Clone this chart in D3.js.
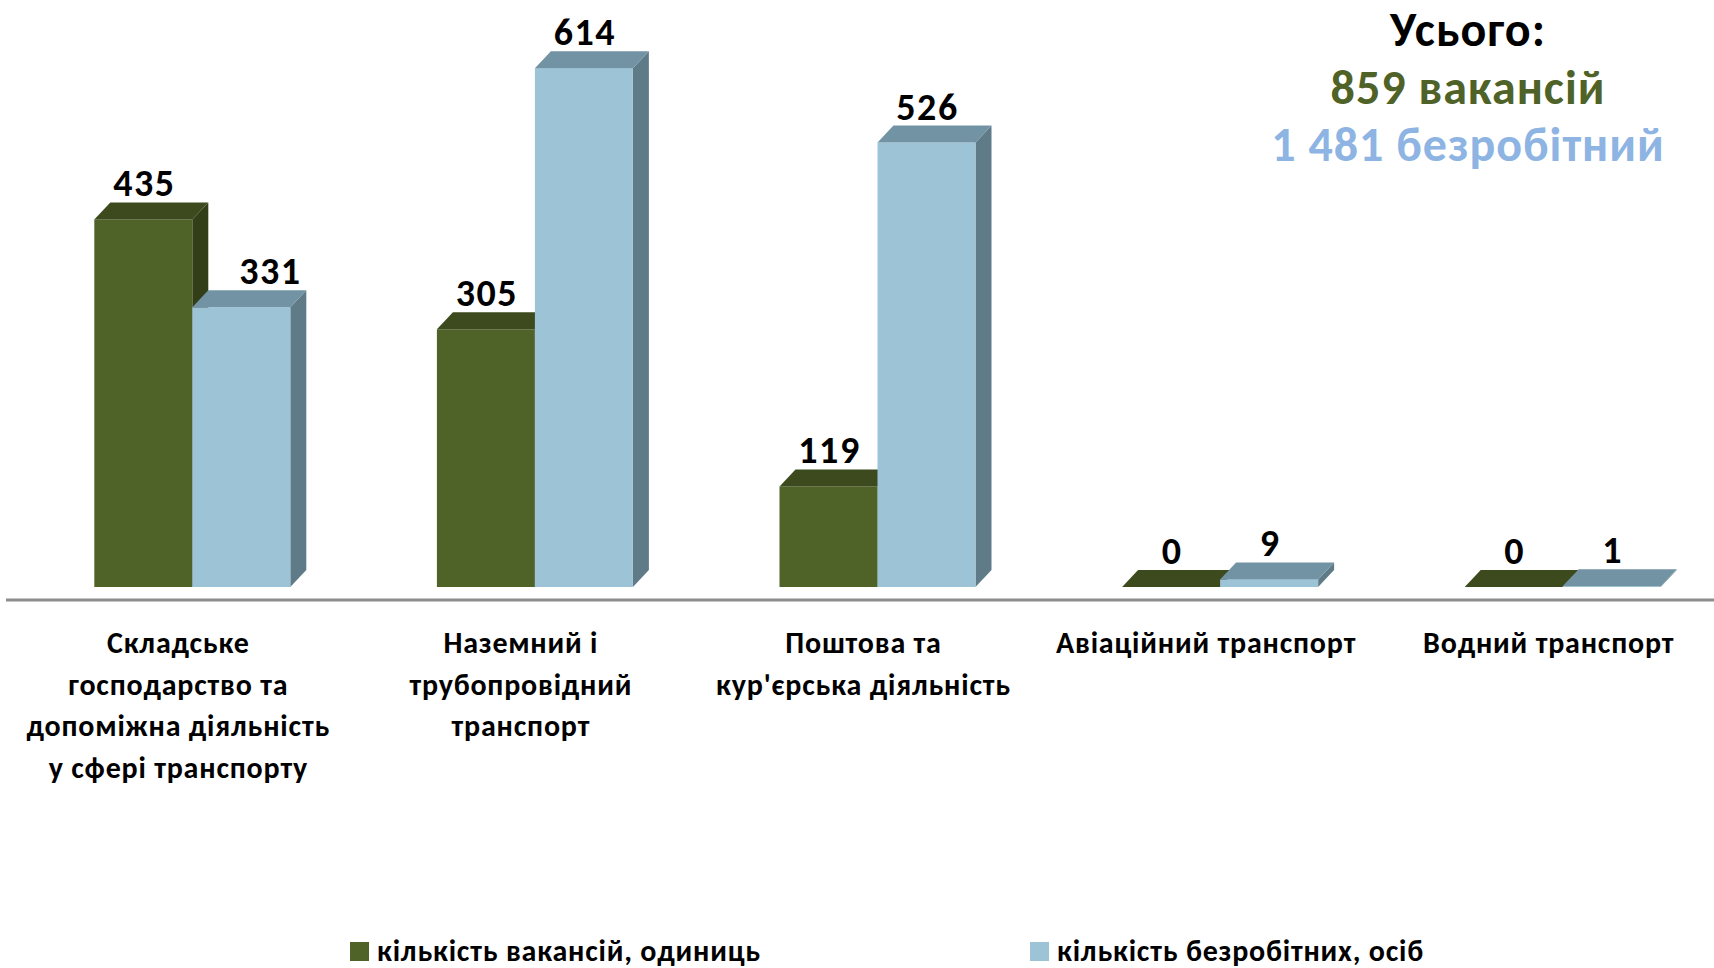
<!DOCTYPE html>
<html>
<head>
<meta charset="utf-8">
<script src="https://cdn.jsdelivr.net/npm/d3@7"></script>
<style>
  body { margin: 0; background: #fff; }
  svg text { font-family: Calibri, Carlito, Lato, sans-serif; font-weight: bold; }
</style>
</head>
<body>
<div id="canvas"></div>
<script>
// data
const categories = [
    ["Складське", "господарство та", "допоміжна діяльність", "у сфері транспорту"],
    ["Наземний і", "трубопровідний", "транспорт"],
    ["Поштова та", "кур'єрська діяльність"],
    ["Авіаційний транспорт"],
    ["Водний транспорт"]
];
const seriesNames = ["кількість вакансій, одиниць", "кількість безробітних, осіб"];
const vacancies = [435, 305, 119, 0, 0];
const unemployed = [331, 614, 526, 9, 1];
const totalLines = ["Усього:", "859 вакансій", "1 481 безробітний"];

const width = 1714;
const height = 968;
const depthX = 16, depthY = 17;

const palette = [
    { front: "#4F6228", top: "#3C4A1E", side: "#323E18" },
    { front: "#9DC3D6", top: "#7293A3", side: "#5F7B88" }
];

const svg = d3.select("#canvas").append("svg")
    .attr("width", width)
    .attr("height", height);

const keys = categories.map((c, i) => "c" + i);

const x0 = d3.scaleBand()
    .domain(keys)
    .range([7, 1720])
    .padding(0);

const x1 = d3.scaleBand()
    .domain([0, 1])
    .range([0, 196]);

const y = d3.scaleLinear()
    .domain([0, 700])
    .range([587, -4.5]);

const rows = [];
keys.forEach((k, i) => {
    rows.push({ key: k, s: 0, value: vacancies[i], other: unemployed[i] });
    rows.push({ key: k, s: 1, value: unemployed[i], other: vacancies[i] });
});

const left = d => x0(d.key) + x0.bandwidth() / 2 + 14 - x1.range()[1] / 2 + x1(d.s);
const right = d => left(d) + x1.bandwidth();

// axis line (floor edge)
svg.append("line")
    .attr("x1", 6).attr("x2", width)
    .attr("y1", 600).attr("y2", 600)
    .style("stroke", "#8C8C8C")
    .style("stroke-width", 3);

const bars = svg.append("g").selectAll("g").data(rows).enter().append("g");

// side face
bars.append("polygon")
    .attr("points", d => {
        const xr = right(d), t = y(d.value), b = y(0);
        return [[xr, t], [xr + depthX, t - depthY], [xr + depthX, b - depthY], [xr, b]].join(" ");
    })
    .style("fill", d => palette[d.s].side);

// front face
bars.append("rect")
    .attr("x", d => left(d))
    .attr("y", d => y(d.value))
    .attr("width", x1.bandwidth())
    .attr("height", d => y(0) - y(d.value))
    .style("fill", d => palette[d.s].front);

// top face
bars.append("polygon")
    .attr("points", d => {
        const xl = left(d), xr = right(d), t = y(d.value);
        return [[xl, t], [xl + depthX, t - depthY], [xr + depthX, t - depthY], [xr, t]].join(" ");
    })
    .style("fill", d => palette[d.s].top);

// value labels (second-series label moves right when the first bar is taller)
bars.append("text")
    .attr("x", d => left(d) + x1.bandwidth() / 2 + 1 + (d.s === 1 && d.other > d.value ? 28 : 0))
    .attr("y", d => y(d.value) - depthY - 6)
    .attr("text-anchor", "middle")
    .style("font-size", "38px")
    .style("letter-spacing", "1.5px")
    .style("fill", "#000")
    .text(d => d.value);

// category labels
const cat = svg.append("g").selectAll("text").data(categories).enter().append("text")
    .attr("text-anchor", "middle")
    .style("font-size", "30px")
    .style("letter-spacing", "0.8px")
    .style("fill", "#000");

cat.selectAll("tspan").data((d, i) => d.map(line => ({ line, i }))).enter().append("tspan")
    .attr("x", d => x0(keys[d.i]) + x0.bandwidth() / 2)
    .attr("y", (d, j) => 653 + j * 41.5)
    .text(d => d.line);

// totals
const totalColors = ["#000000", "#4F6228", "#8DB4E2"];
svg.append("g").selectAll("text").data(totalLines).enter().append("text")
    .attr("x", 1468)
    .attr("y", (d, i) => 46 + i * 57.5)
    .attr("text-anchor", "middle")
    .style("font-size", "48px")
    .style("letter-spacing", "1px")
    .style("fill", (d, i) => totalColors[i])
    .text(d => d);

// legend
const legendX = [350, 1030];
const legend = svg.append("g").selectAll("g").data(seriesNames).enter().append("g")
    .attr("transform", (d, i) => `translate(${legendX[i]}, 942)`);

legend.append("rect")
    .attr("width", 19)
    .attr("height", 19)
    .style("fill", (d, i) => palette[i].front);

legend.append("text")
    .attr("x", 27)
    .attr("y", 19)
    .style("font-size", "30px")
    .style("letter-spacing", "0.8px")
    .style("fill", "#000")
    .text(d => d);
</script>
</body>
</html>
